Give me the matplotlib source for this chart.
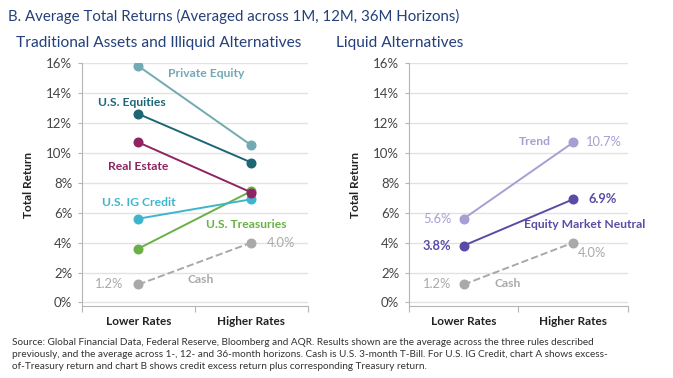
import matplotlib
matplotlib.use('Agg')
import matplotlib.pyplot as plt
from matplotlib.ticker import FuncFormatter

plt.rcParams['font.family'] = ['Lato', 'DejaVu Sans']

# data
periods = ['Lower Rates', 'Higher Rates']
xpos = [0.5, 1.5]

private_equity = [15.8, 10.5]
us_equities = [12.6, 9.35]
us_treasuries = [3.6, 7.45]
us_ig_credit = [5.6, 6.9]
real_estate = [10.7, 7.35]
cash = [1.2, 4.0]

trend = [5.6, 10.7]
eq_mkt_neutral = [3.8, 6.9]

c_pe = '#72a9b3'
c_eq = '#1d6675'
c_re = '#8e2462'
c_ig = '#3eb5cf'
c_tr = '#69b047'
c_cash = '#a9a9a9'
c_trend = '#a79fd3'
c_emn = '#5a4ca6'
navy = '#23407a'
grid_c = '#e2e2e2'

fig = plt.figure(figsize=(6.73, 3.78), dpi=100)
axL = fig.add_axes([0.1218, 0.190, 0.3358, 0.643])
axR = fig.add_axes([0.6077, 0.190, 0.3254, 0.643])

fmt = FuncFormatter(lambda v, p: f'{v:.0f}%')
for ax in (axL, axR):
    ax.set_xlim(0, 2)
    ax.set_ylim(-0.25, 16)
    ax.set_yticks(range(0, 17, 2))
    ax.yaxis.set_major_formatter(fmt)
    ax.grid(axis='y', color=grid_c, linewidth=1)
    ax.set_axisbelow(True)
    for s in ('top', 'right'):
        ax.spines[s].set_visible(False)
    for s in ('left', 'bottom'):
        ax.spines[s].set_color('#b5b5b5')
    ax.set_xticks([0, 1, 2])
    ax.set_xticklabels([])
    ax.set_xticks(xpos, minor=True)
    ax.set_xticklabels(periods, minor=True, fontweight='bold', fontsize=8.5, color='#222222')
    ax.tick_params(axis='x', which='major', length=4, color='#b5b5b5')
    ax.tick_params(axis='x', which='minor', length=0, pad=7)
    ax.tick_params(axis='y', length=3, color='#b5b5b5', labelsize=9.5, labelcolor='#444444', pad=4)
    ax.set_ylabel('Total Return', fontweight='bold', fontsize=8.5, color='#222222', labelpad=9)

def line(ax, vals, color, ls='-'):
    ax.plot(xpos, vals, color=color, lw=1.4, ls=ls, marker='o', ms=6.2, mec=color, mfc=color, zorder=3)

line(axL, cash, c_cash, '--')
line(axL, private_equity, c_pe)
line(axL, us_equities, c_eq)
line(axL, us_treasuries, c_tr)
line(axL, us_ig_credit, c_ig)
line(axL, real_estate, c_re)

kw = dict(fontsize=8.7, fontweight='bold', va='center')
pk = dict(fontsize=9.3, va='center')
axL.text(0.76, 15.33, 'Private Equity', color=c_pe, ha='left', **kw)
axL.text(0.44, 13.4, 'U.S. Equities', color=c_eq, ha='center', **kw)
axL.text(0.50, 9.07, 'Real Estate', color=c_re, ha='center', **kw)
axL.text(0.50, 6.67, 'U.S. IG Credit', color=c_ig, ha='center', **kw)
axL.text(1.45, 5.2, 'U.S. Treasuries', color=c_tr, ha='center', **kw)
axL.text(1.05, 1.53, 'Cash', color=c_cash, ha='center', **kw)
axL.text(1.64, cash[1], f'{cash[1]:.1f}%', color=c_cash, ha='left', **pk)
axL.text(0.37, cash[0], f'{cash[0]:.1f}%', color=c_cash, ha='right', **pk)

line(axR, cash, c_cash, '--')
line(axR, trend, c_trend)
line(axR, eq_mkt_neutral, c_emn)

axR.text(1.15, 10.73, 'Trend', color=c_trend, ha='center', **kw)
axR.text(1.62, trend[1], f'{trend[1]:.1f}%', color=c_trend, ha='left', **pk)
axR.text(0.39, trend[0], f'{trend[0]:.1f}%', color=c_trend, ha='right', **pk)
axR.text(1.64, eq_mkt_neutral[1], f'{eq_mkt_neutral[1]:.1f}%', color=c_emn, ha='left', fontweight='bold', **pk)
axR.text(0.39, eq_mkt_neutral[0], f'{eq_mkt_neutral[0]:.1f}%', color=c_emn, ha='right', fontweight='bold', **pk)
axR.text(1.60, 5.2, 'Equity Market Neutral', color=c_emn, ha='center', **kw)
axR.text(0.39, cash[0], f'{cash[0]:.1f}%', color=c_cash, ha='right', **pk)
axR.text(0.90, 1.27, 'Cash', color=c_cash, ha='center', **kw)
axR.text(1.67, 3.33, f'{cash[1]:.1f}%', color=c_cash, ha='center', **pk)

fig.text(8/673, 1 - 16/378, 'B. Average Total Returns (Averaged across 1M, 12M, 36M Horizons)',
         fontsize=10.8, color=navy, va='center', ha='left')
fig.text(16/673, 1 - 43/378, 'Traditional Assets and Illiquid Alternatives',
         fontsize=11.2, color=navy, va='center', ha='left')
fig.text(336/673, 1 - 43/378, 'Liquid Alternatives',
         fontsize=11.2, color=navy, va='center', ha='left')

foot = ('Source: Global Financial Data, Federal Reserve, Bloomberg and AQR. Results shown are the average across the three rules described\n'
        'previously, and the average across 1-, 12- and 36-month horizons. Cash is U.S. 3-month T-Bill. For U.S. IG Credit, chart A shows excess-\n'
        'of-Treasury return and chart B shows credit excess return plus corresponding Treasury return.')
fig.text(12/673, 1 - 338/378, foot, fontsize=7.2, color='#333333', va='top', ha='left',
         family=['Liberation Sans Narrow', 'Lato'], linespacing=1.4)

fig.savefig('out.png', dpi=100)
